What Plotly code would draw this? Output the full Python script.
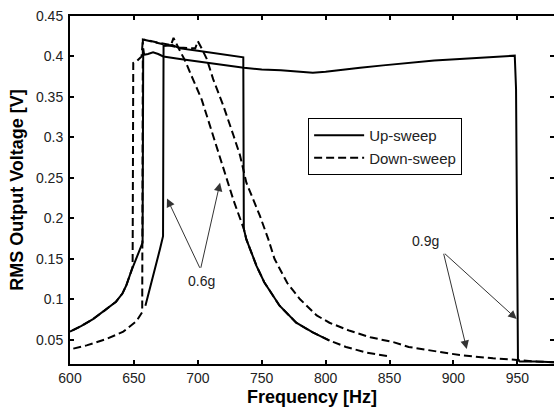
import plotly.graph_objects as go

# 0.9g up-sweep (solid): low branch, jump at ~657 Hz, saturated plateau, drop at ~950 Hz
freq_up_09 = [600, 609, 618, 627, 636, 641, 644, 648, 651, 654, 656.8, 657.3, 658, 661, 665,
              669, 673, 686, 700, 710, 722, 736, 750, 765, 780, 790, 800, 815, 827, 845,
              865, 885, 905, 925, 940, 948, 949, 949.5, 950.5, 952, 965, 980]
volt_up_09 = [0.060, 0.067, 0.0755, 0.086, 0.097, 0.107, 0.117, 0.135, 0.147, 0.158, 0.170, 0.410, 0.402, 0.403, 0.405,
              0.403, 0.400, 0.397, 0.394, 0.391, 0.389, 0.386, 0.384, 0.383, 0.381, 0.380, 0.381, 0.384, 0.386, 0.389,
              0.392, 0.395, 0.397, 0.399, 0.400, 0.401, 0.360, 0.200, 0.025, 0.023, 0.023, 0.022]

# 0.6g up-sweep (solid): jump at ~673 Hz, drop at ~736 Hz
freq_up_06 = [659, 660, 662.6, 666.5, 670.4, 672.8, 673.2, 680, 686, 700, 710, 722, 735.6,
              736, 738, 746, 752, 764, 777, 790, 803]
volt_up_06 = [0.092, 0.098, 0.112, 0.137, 0.162, 0.178, 0.413, 0.414, 0.410, 0.407, 0.405, 0.402, 0.399,
              0.187, 0.174, 0.141, 0.121, 0.092, 0.071, 0.059, 0.049]

# 0.9g down-sweep (dashed): from 980 Hz down to 600 Hz
freq_down_09 = [980, 965, 950, 931, 905, 879, 865, 853, 835, 819, 803, 793, 780, 770, 760, 755,
                748.6, 738, 733, 728, 720, 712, 707, 703, 700, 698, 686, 673, 665, 657, 656,
                652, 649.5, 649, 648, 644, 641, 636, 627, 618, 609, 600]
volt_down_09 = [0.022, 0.023, 0.025, 0.027, 0.031, 0.037, 0.041, 0.047, 0.053, 0.061, 0.071, 0.080, 0.100, 0.120, 0.150, 0.175,
                0.203, 0.244, 0.278, 0.302, 0.339, 0.372, 0.397, 0.410, 0.419, 0.410, 0.411, 0.415, 0.418, 0.421, 0.400,
                0.394, 0.392, 0.140, 0.135, 0.117, 0.107, 0.097, 0.086, 0.0755, 0.067, 0.060]

# 0.6g down-sweep (dashed): from 848 Hz down to 600 Hz
freq_down_06 = [848, 832, 816, 803, 790, 777, 764, 752, 746, 738, 736, 728, 720, 712, 703, 694,
                690, 686, 683, 681, 679, 673, 665, 657, 656.5, 652, 641.7, 628.7, 613, 600]
volt_down_06 = [0.030, 0.034, 0.041, 0.049, 0.059, 0.071, 0.092, 0.121, 0.141, 0.174, 0.187, 0.222, 0.262, 0.302, 0.347, 0.380,
                0.395, 0.407, 0.416, 0.423, 0.414, 0.416, 0.418, 0.421, 0.084, 0.073, 0.060, 0.051, 0.043, 0.038]

x_ticks = [600, 650, 700, 750, 800, 850, 900, 950]
y_ticks = [0.05, 0.1, 0.15, 0.2, 0.25, 0.3, 0.35, 0.4, 0.45]
y_tick_labels = ["0.05", "0.1", "0.15", "0.2", "0.25", "0.3", "0.35", "0.4", "0.45"]

FONT = "Liberation Sans, Arial, Helvetica, sans-serif"
solid = dict(color="black", width=2)
dashed = dict(color="black", width=2, dash="8px,4px")

fig = go.Figure()
fig.add_trace(go.Scatter(x=freq_up_09, y=volt_up_09, mode="lines", line=solid,
                         name="Up-sweep", legendgroup="up"))
fig.add_trace(go.Scatter(x=freq_up_06, y=volt_up_06, mode="lines", line=solid,
                         name="Up-sweep", legendgroup="up", showlegend=False))
fig.add_trace(go.Scatter(x=freq_down_09, y=volt_down_09, mode="lines", line=dashed,
                         name="Down-sweep", legendgroup="down"))
# drawn on the mirrored right-hand axis (same range) so its ticks are rendered
fig.add_trace(go.Scatter(x=freq_down_06, y=volt_down_06, mode="lines", line=dashed,
                         name="Down-sweep", legendgroup="down", showlegend=False,
                         yaxis="y2"))


def arrow(tail, tip):
    fig.add_annotation(x=tip[0], y=tip[1], ax=tail[0], ay=tail[1],
                       xref="x", yref="y", axref="x", ayref="y",
                       text="", showarrow=True, arrowhead=2, arrowsize=1.7,
                       arrowwidth=1, arrowcolor="#333")


def label(pos, text):
    fig.add_annotation(x=pos[0], y=pos[1], xref="x", yref="y", text=text,
                       showarrow=False, font=dict(family=FONT, size=14, color="#222"))


# 0.6g callouts
label((702.5, 0.123), "0.6g")
arrow((702.1, 0.137), (675.9, 0.2246))
arrow((702.1, 0.137), (717.4, 0.244))

# 0.9g callouts
label((877.8, 0.172), "0.9g")
arrow((892.1, 0.158), (949.5, 0.0756))
arrow((892.1, 0.158), (910.4, 0.0385))

axis_common = dict(ticks="inside", ticklen=4, tickwidth=1.5, tickcolor="black",
                   showgrid=False, zeroline=False,
                   tickfont=dict(family=FONT, size=14, color="#222"))

fig.update_layout(
    width=554, height=411,
    margin=dict(l=70, r=0, t=16, b=47),
    paper_bgcolor="white", plot_bgcolor="white",
    font=dict(family=FONT, color="black"),
    xaxis=dict(range=[600, 978.7], tickvals=x_ticks, showline=True, linewidth=2,
               linecolor="black", mirror="ticks",
               title=dict(text="<b>Frequency [Hz]</b>", font=dict(family=FONT, size=18), standoff=6),
               **axis_common),
    yaxis=dict(range=[0.02, 0.45], tickvals=y_ticks, ticktext=y_tick_labels,
               showline=True, linewidth=2, linecolor="black", ticklabelstandoff=2,
               title=dict(text="<b>RMS Output Voltage [V]</b>", font=dict(family=FONT, size=18), standoff=8),
               **axis_common),
    yaxis2=dict(range=[0.02, 0.45], tickvals=y_ticks, overlaying="y", side="right",
                showline=False, showticklabels=False, **axis_common),
    legend=dict(x=0.492, y=0.707, xanchor="left", yanchor="top",
                bgcolor="white", bordercolor="black", borderwidth=1,
                font=dict(family=FONT, size=15, color="#222"), tracegroupgap=0,
                itemwidth=50),
    showlegend=True,
)

fig.write_html("out.html")
